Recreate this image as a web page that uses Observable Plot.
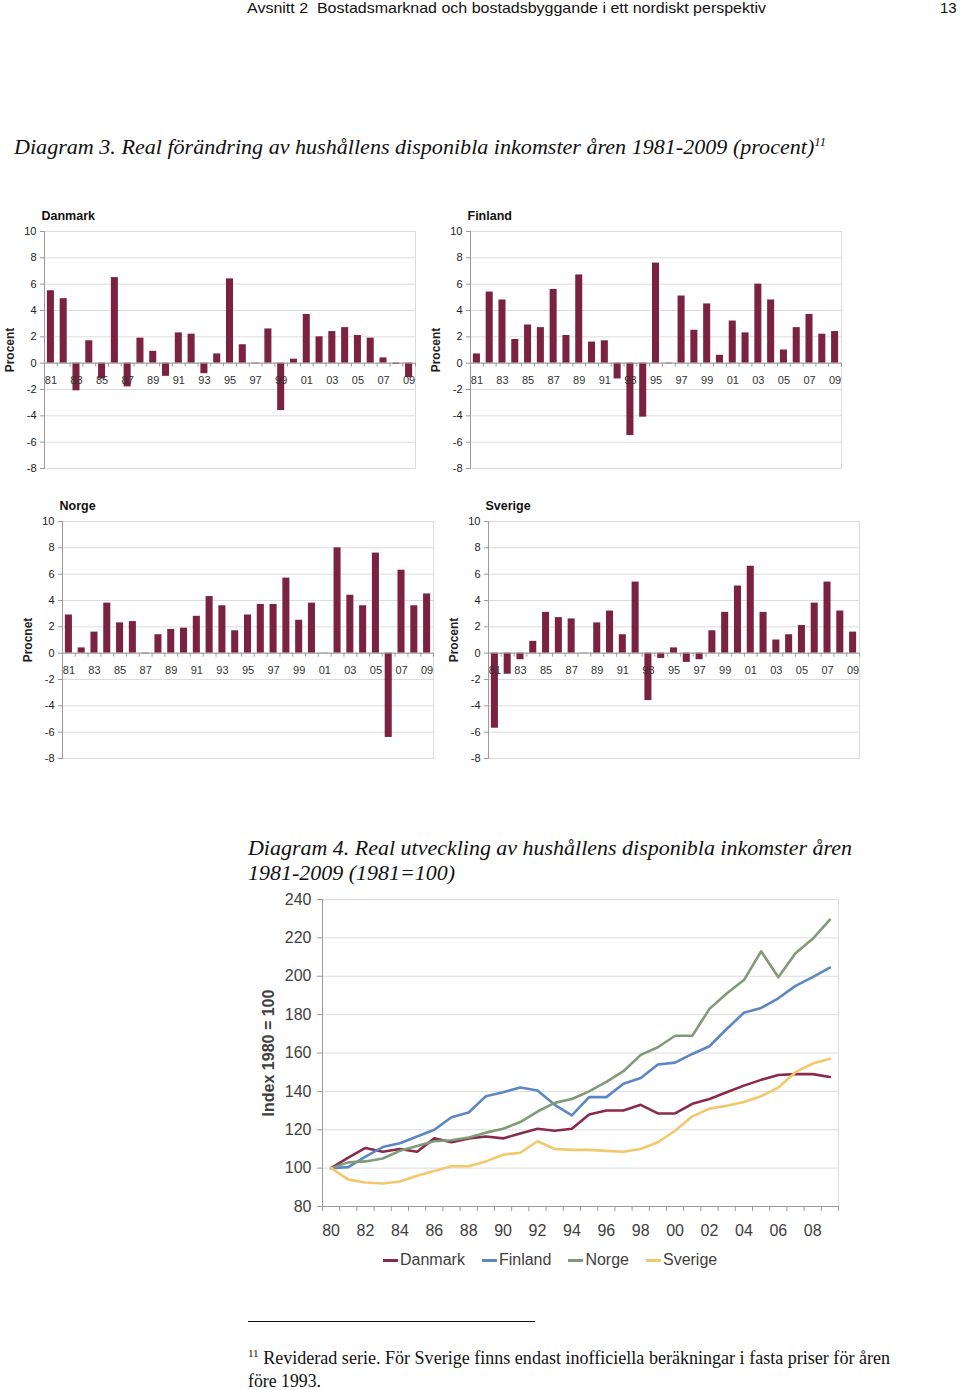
<!DOCTYPE html>
<html><head><meta charset="utf-8">
<script src="https://cdn.jsdelivr.net/npm/d3@7"></script>
<script src="https://cdn.jsdelivr.net/npm/@observablehq/plot@0.6"></script>
<style>
body{margin:0;background:#fff;}
#page{position:relative;width:960px;height:1390px;overflow:hidden;background:#fff;}
.abs{position:absolute;white-space:nowrap;}
.fit{transform-origin:0 50%;display:inline-block;}
.serif{font-family:"Liberation Serif","Times New Roman",serif;color:#111;}
.sans{font-family:"Liberation Sans",Arial,sans-serif;}
.chart{position:absolute;}
.legend{position:absolute;left:383px;top:1251px;font:16px "Liberation Sans",Arial,sans-serif;color:#404040;display:flex;align-items:center;}
.legend span.sw{display:inline-block;width:15px;height:3px;margin-right:2px;}
.legend span.it{display:inline-flex;align-items:center;margin-right:17px;}
</style></head><body><div id="page">
<div class="abs sans fit" data-w="519" style="left:247px;top:0px;font-size:15px;line-height:16px;color:#111">Avsnitt 2&nbsp; Bostadsmarknad och bostadsbyggande i ett nordiskt perspektiv</div>
<div class="abs sans" style="left:940px;top:0px;font-size:15px;line-height:16px;color:#111">13</div>
<div class="abs serif fit" data-w="812" style="left:14px;top:129px;font-size:21px;line-height:26px;font-style:italic">Diagram 3. Real förändring av hushållens disponibla inkomster åren 1981-2009 (procent)<sup style="font-size:12px">11</sup></div>
<div id="c-dk" class="chart" style="left:0px;top:200px"></div>
<div id="c-fi" class="chart" style="left:426px;top:200px"></div>
<div id="c-no" class="chart" style="left:18px;top:490px"></div>
<div id="c-se" class="chart" style="left:444px;top:490px"></div>
<div class="abs serif fit" data-w="604" style="left:248px;top:835px;font-size:21px;line-height:26px;font-style:italic">Diagram 4. Real utveckling av hushållens disponibla inkomster åren</div>
<div class="abs serif fit" data-w="207" style="left:248px;top:860px;font-size:21px;line-height:26px;font-style:italic">1981-2009 (1981=100)</div>
<div id="c-line" class="chart" style="left:250px;top:880px"></div>
<div id="legend" class="legend"></div>
<div class="abs" style="left:248px;top:1321px;width:287px;height:1px;background:#111"></div>
<div class="abs serif fit" data-w="642" style="left:248px;top:1342px;font-size:18px;line-height:22px"><sup style="font-size:11px">11</sup> Reviderad serie. För Sverige finns endast inofficiella beräkningar i fasta priser för åren</div>
<div class="abs serif fit" data-w="73" style="left:248px;top:1370px;font-size:18px;line-height:22px">före 1993.</div>
</div>
<script>
// ---------- Data ----------
const years = [1981,1982,1983,1984,1985,1986,1987,1988,1989,1990,1991,1992,1993,1994,1995,1996,1997,1998,1999,2000,2001,2002,2003,2004,2005,2006,2007,2008,2009];
const barTickYears = [1981,1983,1985,1987,1989,1991,1993,1995,1997,1999,2001,2003,2005,2007,2009];
const barTickLabels = ["81","83","85","87","89","91","93","95","97","99","01","03","05","07","09"];
const barYTicks = [-8,-6,-4,-2,0,2,4,6,8,10];

const danmark = [5.5,4.9,-2.1,1.7,-1.2,6.5,-1.8,1.9,0.9,-1.0,2.3,2.2,-0.8,0.7,6.4,1.4,-0.05,2.6,-3.6,0.3,3.7,2.0,2.4,2.7,2.1,1.9,0.4,-0.1,-1.1];
const finland = [0.7,5.4,4.8,1.8,2.9,2.7,5.6,2.1,6.7,1.6,1.7,-1.2,-5.5,-4.1,7.6,-0.05,5.1,2.5,4.5,0.6,3.2,2.3,6.0,4.8,1.0,2.7,3.7,2.2,2.4];
const norge   = [2.9,0.4,1.6,3.8,2.3,2.4,-0.05,1.4,1.8,1.9,2.8,4.3,3.6,1.7,2.9,3.7,3.7,5.7,2.5,3.8,0.02,8.0,4.4,3.6,7.6,-6.4,6.3,3.6,4.5];
const sverige = [-5.7,-1.6,-0.5,0.9,3.1,2.7,2.6,0.02,2.3,3.2,1.4,5.4,-3.6,-0.4,0.4,-0.7,-0.5,1.7,3.1,5.1,6.6,3.1,1.0,1.4,2.1,3.8,5.4,3.2,1.6];

const indexYears = [1980,1981,1982,1983,1984,1985,1986,1987,1988,1989,1990,1991,1992,1993,1994,1995,1996,1997,1998,1999,2000,2001,2002,2003,2004,2005,2006,2007,2008,2009];
const idxDanmark = [100,105.5,110.5,108.5,110,108.5,115.5,113.5,115.5,116.5,115.5,118,120.5,119.5,120.5,128,130,130,133,128.5,128.5,133.5,136,139.5,143,146,148.5,149,149,147.5];
const idxFinland = [100,100.5,106,111,113,116.5,120,126.5,129,137.5,139.5,142,140.5,133,127.5,137,137,144,147,154,155,159.5,163.5,172.5,181,183.5,188.5,195,199.5,204.5];
const idxNorge   = [100,103,103.5,105,109,111.5,114,114.5,116,118.5,120.5,124,129.5,134,136,140,145,150.5,159,163,169,169,183,191,198,213,199.5,212,219.5,229.5];
const idxSverige = [100,94,92.5,92,93,96,98.5,101,101,103.5,107,108,114,110,109.5,109.5,109,108.5,110,113.5,119.5,127,131,132.5,134.5,137.5,142,150,154.5,157];
const countries = ["Danmark","Finland","Norge","Sverige"];
const lineColors = ["#8a2a4b","#5b87c4","#7f9b78","#f3c86c"];
const lineYTicks = [80,100,120,140,160,180,200,220,240];
const lineTickYears = [1980,1982,1984,1986,1988,1990,1992,1994,1996,1998,2000,2002,2004,2006,2008];
const lineTickLabels = ["80","82","84","86","88","90","92","94","96","98","00","02","04","06","08"];

const barColor = "#7b2240";
const gridColor = "#dcdcdc";
const axisColor = "#9a9a9a";

// ---------- Bar charts ----------
const bcW = 430, bcML = 44, bcMR = 15;
const halfStep = (bcW - bcML - bcMR) / years.length / 2;
function barChart(values, title, ylabel) {
  const data = years.map((y, i) => ({year: y, value: values[i]}));
  const labels = barTickYears.map((y, i) => ({year: y, text: barTickLabels[i]}));
  return Plot.plot({
    width: bcW, height: 280,
    marginLeft: bcML, marginRight: bcMR, marginTop: 31, marginBottom: 12,
    style: {fontFamily: "'Liberation Sans', Arial, sans-serif", fontSize: "11px", color: "#222", background: "transparent"},
    x: {type: "band", domain: years, paddingInner: 0.45, paddingOuter: 0.225, round: false, axis: null},
    y: {domain: [-8, 10], axis: null},
    marks: [
      Plot.gridY(barYTicks, {stroke: gridColor, strokeOpacity: 1}),
      Plot.frame({stroke: gridColor}),
      Plot.frame({anchor: "left", stroke: axisColor}),
      Plot.axisY({ticks: barYTicks, tickSize: 4, tickPadding: 4, stroke: axisColor, label: null, fontSize: 11, tickFormat: d => String(d)}),
      Plot.barY(data, {x: "year", y: "value", fill: barColor}),
      Plot.ruleY([0], {stroke: axisColor}),
      Plot.ruleX(years, {x: d => d, y1: () => 0, y2: () => -0.3, dx: halfStep, stroke: axisColor}),
      Plot.text(labels, {x: "year", y: () => 0, text: "text", dy: 17, fontSize: 11, fill: "#333"}),
      Plot.text([ylabel], {frameAnchor: "left", textAnchor: "middle", dx: -34, rotate: -90, fontWeight: "bold", fontSize: 12, fill: "#222"}),
      Plot.text([title], {frameAnchor: "top-left", lineAnchor: "middle", dx: -3, dy: -16, textAnchor: "start", fontWeight: "bold", fontSize: 12.5, fill: "#111"})
    ]
  });
}
document.getElementById("c-dk").append(barChart(danmark, "Danmark", "Procent"));
document.getElementById("c-fi").append(barChart(finland, "Finland", "Procent"));
document.getElementById("c-no").append(barChart(norge, "Norge", "Procnet"));
document.getElementById("c-se").append(barChart(sverige, "Sverige", "Procent"));

// ---------- Line chart ----------
const series = [idxDanmark, idxFinland, idxNorge, idxSverige];
const lineData = [];
countries.forEach((c, k) => indexYears.forEach((y, i) => lineData.push({country: c, year: y, value: series[k][i]})));
const tickBounds = indexYears.map(y => y - 0.5).concat([indexYears[indexYears.length - 1] + 0.5]);
const xLabels = lineTickYears.map((y, i) => ({year: y, text: lineTickLabels[i]}));

const lineChart = Plot.plot({
  width: 600, height: 370,
  marginLeft: 72, marginRight: 12, marginTop: 19, marginBottom: 44,
  style: {fontFamily: "'Liberation Sans', Arial, sans-serif", fontSize: "16px", color: "#404040", background: "transparent"},
  x: {domain: [tickBounds[0], tickBounds[tickBounds.length - 1]], axis: null},
  y: {domain: [80, 240], axis: null},
  color: {domain: countries, range: lineColors},
  marks: [
    Plot.gridY(lineYTicks, {stroke: gridColor, strokeOpacity: 1}),
    Plot.frame({stroke: gridColor}),
    Plot.frame({anchor: "left", stroke: axisColor}),
    Plot.frame({anchor: "bottom", stroke: axisColor}),
    Plot.axisY({ticks: lineYTicks, tickSize: 5, tickPadding: 6, stroke: axisColor, label: null, fontSize: 16, fill: "#404040"}),
    Plot.axisX({ticks: tickBounds, tickFormat: () => "", tickSize: 5, stroke: axisColor, label: null}),
    Plot.line(lineData, {x: "year", y: "value", stroke: "country", strokeWidth: 2.6, curve: "linear"}),
    Plot.text(xLabels, {x: "year", y: () => 80, text: "text", dy: 24, fontSize: 16, fill: "#404040"}),
    Plot.text(["Index 1980 = 100"], {frameAnchor: "left", textAnchor: "middle", dx: -54, rotate: -90, fontWeight: "bold", fontSize: 16, fill: "#404040"})
  ]
});
document.getElementById("c-line").append(lineChart);

// ---------- Legend ----------
const leg = document.getElementById("legend");
countries.forEach((c, k) => {
  const it = document.createElement("span"); it.className = "it";
  const sw = document.createElement("span"); sw.className = "sw"; sw.style.background = lineColors[k];
  it.append(sw, document.createTextNode(c));
  leg.append(it);
});

// ---------- fit text widths ----------
document.querySelectorAll(".fit").forEach(el => {
  const w = el.getBoundingClientRect().width;
  const target = +el.dataset.w;
  if (w > 0 && target) el.style.transform = `scaleX(${target / w})`;
});
</script>
</body></html>
